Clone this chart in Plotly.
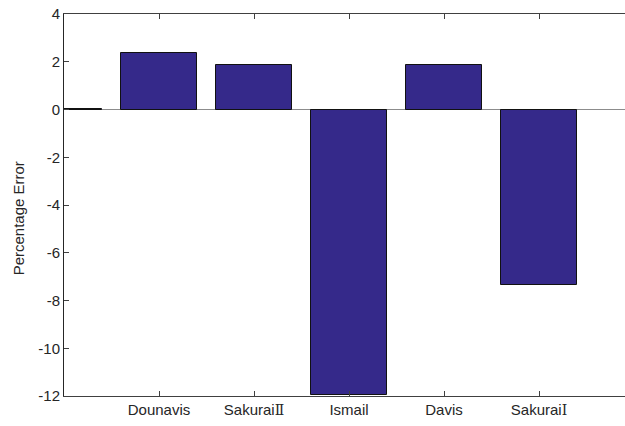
import plotly.graph_objects as go

# Bar positions (0 is an unlabeled reference slot) and their labels
positions = [0, 1, 2, 3, 4, 5]
serif = "<span style='font-family:DejaVu Serif;font-size:14px'>{}</span>"
labels = ["", "Dounavis", "Sakurai" + serif.format("Ⅱ"), "Ismail", "Davis",
          "Sakurai" + serif.format("Ⅰ")]
errors = [0.02, 2.37, 1.87, -11.95, 1.88, -7.35]

y_ticks = [4, 2, 0, -2, -4, -6, -8, -10, -12]
y_tick_text = [str(v) for v in y_ticks]

fig = go.Figure(
    go.Bar(
        x=positions,
        y=errors,
        width=0.8,
        marker=dict(color="#35298a", line=dict(color="#111111", width=1)),
        showlegend=False,
    )
)

axis_font = dict(family="Liberation Sans, Arial, sans-serif", size=15, color="#262626")

fig.update_layout(
    width=625,
    height=426,
    margin=dict(l=64, r=0, t=14, b=30),
    paper_bgcolor="white",
    plot_bgcolor="white",
    font=axis_font,
    bargap=0,
)

fig.update_xaxes(
    range=[0, 5.905],
    tickvals=positions,
    ticktext=labels,
    ticks="inside",
    ticklen=5,
    tickcolor="#404040",
    showline=True,
    linecolor="#404040",
    linewidth=1,
    mirror="ticks",
    showgrid=False,
    zeroline=False,
    tickfont=axis_font,
)

fig.update_yaxes(
    range=[-12, 4],
    tickvals=y_ticks,
    ticktext=y_tick_text,
    ticks="inside",
    ticklen=5,
    tickcolor="#404040",
    showline=True,
    linecolor="#262626",
    linewidth=1,
    showgrid=False,
    zeroline=True,
    zerolinecolor="#8c8c8c",
    zerolinewidth=1,
    tickfont=axis_font,
)

# y-axis title placed as an annotation, centred a little below the plot middle
fig.add_annotation(
    text="Percentage Error",
    xref="paper", yref="paper",
    x=-0.082, y=0.465,
    xanchor="center", yanchor="middle",
    textangle=-90,
    showarrow=False,
    font=axis_font,
)

fig.write_html("out.html")
